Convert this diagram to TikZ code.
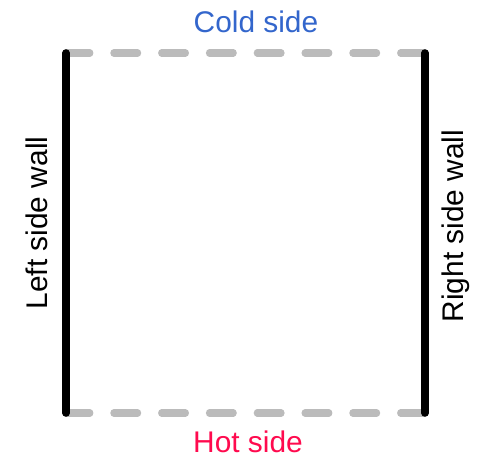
\documentclass[tikz,border=0pt]{standalone}
\usepackage{fontspec}
\setmainfont{Liberation Sans}
\usetikzlibrary{positioning}
\definecolor{coldblue}{HTML}{3366CC}
\definecolor{hotred}{HTML}{FF0A4E}
\definecolor{sidegray}{HTML}{BBBBBB}

\begin{document}
\begin{tikzpicture}[
  font=\fontsize{17}{20}\selectfont,
  wall/.style={line width=4.3pt, line cap=round, black},
  side/.style={line width=4pt, line cap=round, sidegray,
               dash pattern=on 13.6pt off 13.6pt},
  sidelabel/.style={anchor=base, inner sep=0pt},
  walllabel/.style={anchor=base, inner sep=0pt, rotate=90},
]
\useasboundingbox (0,0) rectangle (9.94,9.42);

% ---- Corners of the box -----------------------------------------------------
\coordinate (tl) at (1.32,8.36);
\coordinate (tr) at (8.50,8.36);
\coordinate (bl) at (1.32,1.16);
\coordinate (br) at (8.50,1.16);

% ---- Open sides (dashed) ----------------------------------------------------
\draw[side] (tl) -- (tr);
\draw[side] (bl) -- (br);

% ---- Walls ------------------------------------------------------------------
\draw[wall] (tl) -- (bl);
\draw[wall] (tr) -- (br);

% ---- Labels -----------------------------------------------------------------
\node[sidelabel, coldblue] (cold) at (5.12,8.76) {Cold side};
\node[sidelabel, hotred]   (hot)  at (4.96,0.36) {Hot side};
\node[walllabel] (leftwall)  at (0.94,4.96) {Left side wall};
\node[walllabel] (rightwall) at (9.26,4.90) {Right side wall};

\end{tikzpicture}
\end{document}
